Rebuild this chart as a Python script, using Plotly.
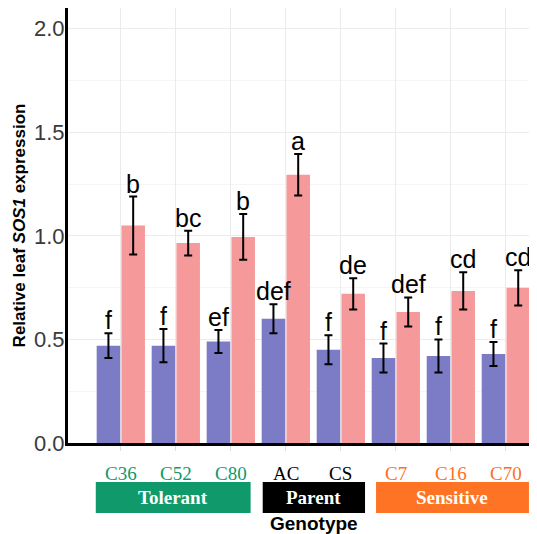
import plotly.graph_objects as go

genotypes = ["C36", "C52", "C80", "AC", "CS", "C7", "C16", "C70"]
genotype_group = ["Tolerant", "Tolerant", "Tolerant", "Parent", "Parent",
                  "Sensitive", "Sensitive", "Sensitive"]
control_mean = [0.47, 0.47, 0.49, 0.60, 0.45, 0.41, 0.42, 0.43]
control_err = [0.06, 0.08, 0.055, 0.07, 0.07, 0.07, 0.08, 0.058]
salt_mean = [1.05, 0.965, 0.995, 1.295, 0.72, 0.633, 0.734, 0.749]
salt_err = [0.14, 0.06, 0.11, 0.10, 0.075, 0.07, 0.09, 0.085]
control_letters = ["f", "f", "ef", "def", "f", "f", "f", "f"]
salt_letters = ["b", "bc", "b", "a", "de", "def", "cd", "cd"]
yticks = [0.0, 0.5, 1.0, 1.5, 2.0]
ytick_labels = ["0.0", "0.5", "1.0", "1.5", "2.0"]

group_names = ["Tolerant", "Parent", "Sensitive"]
group_colors = {"Tolerant": "#109a6b", "Parent": "#000000", "Sensitive": "#ff7424"}
label_colors = {"Tolerant": "#109a6b", "Parent": "#000000", "Sensitive": "#ff6f1c"}

x = list(range(len(genotypes)))

fig = go.Figure()
fig.add_trace(go.Bar(
    x=x, y=control_mean, name="Control", marker_color="#7b7bc6",
    marker_line_width=0,
    error_y=dict(type="data", array=control_err, color="black", thickness=2, width=4),
))
fig.add_trace(go.Bar(
    x=x, y=salt_mean, name="Salt", marker_color="#f5999a",
    marker_line_width=0,
    error_y=dict(type="data", array=salt_err, color="black", thickness=2, width=4),
))

annotations = []
off = 0.225
for i in x:
    annotations.append(dict(x=i - off, y=control_mean[i] + control_err[i], xref="x", yref="y",
                            text=control_letters[i], showarrow=False, yanchor="bottom",
                            font=dict(family="Liberation Sans, Arial", size=25, color="black"),
                            yshift=-3))
    annotations.append(dict(x=i + off, y=salt_mean[i] + salt_err[i], xref="x", yref="y",
                            text=salt_letters[i], showarrow=False, yanchor="bottom",
                            font=dict(family="Liberation Sans, Arial", size=25, color="black"),
                            yshift=-3))
    annotations.append(dict(x=i, y=-0.069, xref="x", yref="paper", text=genotypes[i],
                            showarrow=False, yanchor="middle",
                            font=dict(family="Liberation Serif, Times New Roman", size=19,
                                      color=label_colors[genotype_group[i]])))

shapes = []
box_spans = {"Tolerant": (-0.455, 2.36), "Parent": (2.58, 4.44), "Sensitive": (4.64, 7.42)}
for g in group_names:
    x0, x1 = box_spans[g]
    shapes.append(dict(type="rect", xref="x", yref="paper", x0=x0, x1=x1,
                       y0=-0.161, y1=-0.0897, fillcolor=group_colors[g], line_width=0,
                       layer="above"))
    annotations.append(dict(x=(x0 + x1) / 2, y=-0.125, xref="x", yref="paper",
                            text="<b>" + g + "</b>", showarrow=False, yanchor="middle",
                            font=dict(family="Liberation Serif, Times New Roman", size=19,
                                      color="white")))

annotations.append(dict(x=3.51, y=-0.184, xref="x", yref="paper", text="<b>Genotype</b>",
                        showarrow=False, yanchor="middle",
                        font=dict(family="Liberation Sans, Arial", size=19, color="black")))
annotations.append(dict(x=-0.103, y=0.5, xref="paper", yref="paper",
                        text="<b>Relative leaf <i>SOS1</i> expression</b>",
                        showarrow=False, textangle=-90, xanchor="center", yanchor="middle",
                        font=dict(family="Liberation Sans, Arial", size=17, color="black")))

# page body has an 8px margin; size the figure so it fits the 537x534 window
fig.update_layout(
    width=529, height=526,
    margin=dict(l=60, r=2, t=0, b=91, autoexpand=False),
    plot_bgcolor="white", paper_bgcolor="white",
    barmode="group", bargap=0.1, bargroupgap=0.05,
    showlegend=False,
    annotations=annotations, shapes=shapes,
    xaxis=dict(range=[-0.96, 7.53], tickvals=x, ticktext=[""] * len(x),
               showgrid=True, gridcolor="#ebebeb", gridwidth=1,
               showline=True, linecolor="black", linewidth=3,
               ticks="outside", ticklen=5, tickcolor="#dddddd", zeroline=False),
    yaxis=dict(range=[0, 2.1], tickvals=yticks, ticktext=ytick_labels,
               tickfont=dict(family="Liberation Sans, Arial", size=22, color="#3a3a3a"),
               ticklabelstandoff=-4,
               showgrid=True, gridcolor="#ebebeb", gridwidth=1,
               minor=dict(dtick=0.25, tick0=0, showgrid=True, gridcolor="#f5f5f5"),
               showline=True, linecolor="black", linewidth=3,
               ticks="", zeroline=False),
)

fig.write_html("out.html")
